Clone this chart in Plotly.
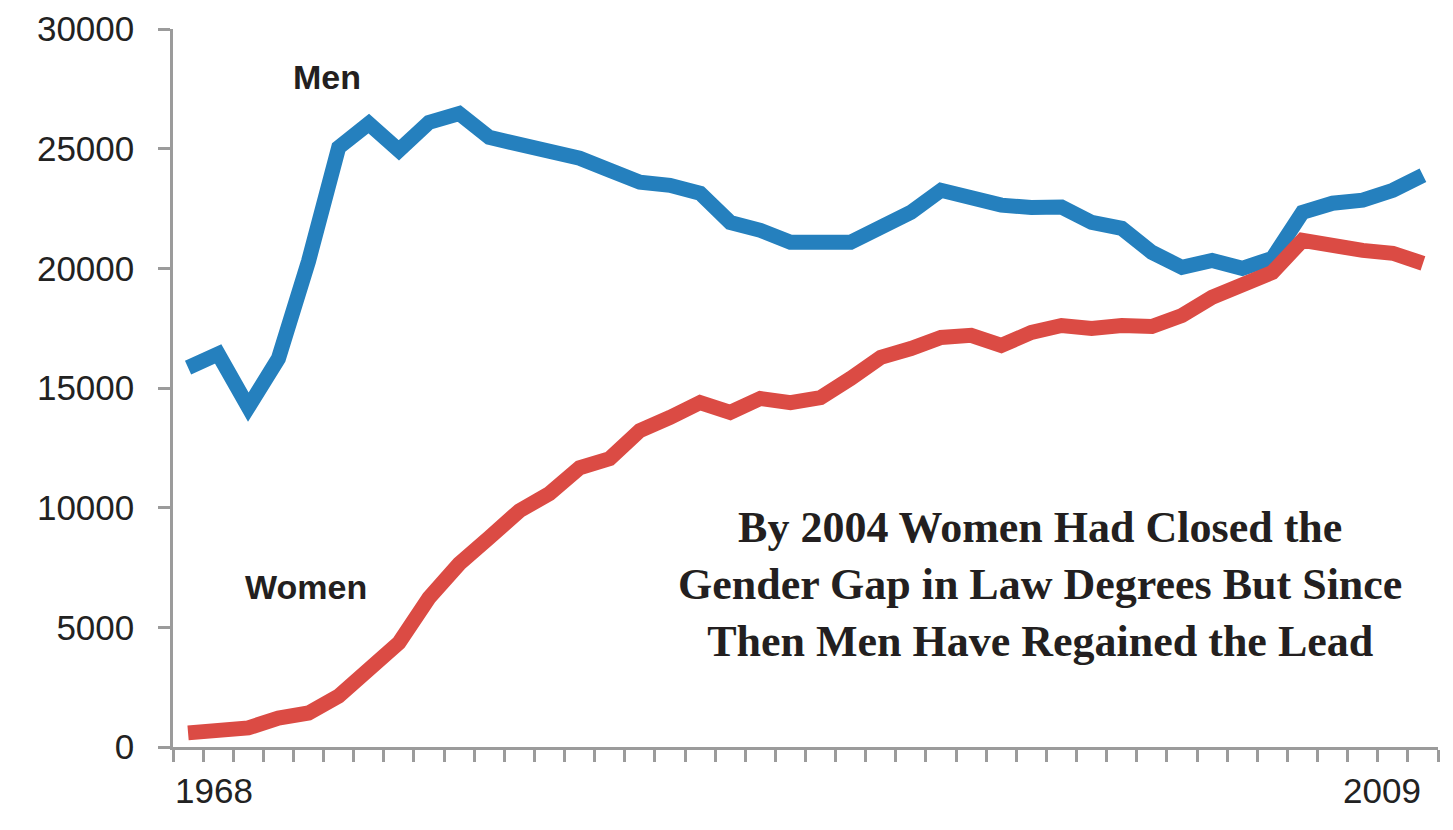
import plotly.graph_objects as go

years = list(range(1968, 2010))
men = [15850, 16420, 14200, 16230, 20300, 25050, 26050, 24930, 26100, 26470,
       25470, 25230, 24950, 24600, 24100, 23600, 23470, 23140, 21920, 21590,
       21090, 21090, 21090, 21720, 22340, 23260, 22930, 22640, 22540, 22560,
       21920, 21670, 20670, 20040, 20330, 20000, 20420, 22340, 22720, 22850,
       23260, 23890]
women = [590, 630, 800, 1210, 1420, 2130, 3300, 4350, 6230, 7650,
         8750, 9870, 10590, 11670, 12050, 13220, 13770, 14390, 13980, 14560,
         14390, 14600, 15400, 16280, 16650, 17110, 17200, 16780, 17320, 17610,
         17490, 17610, 17570, 18030, 18790, 19290, 19830, 21170, 20880, 20750,
         20630, 20210]
y_ticks = [0, 5000, 10000, 15000, 20000, 25000, 30000]
x_labels = ["1968", "2009"]
series_labels = ["Men", "Women"]
note = "By 2004 Women Had Closed the<br>Gender Gap in Law Degrees But Since<br>Then Men Have Regained the Lead"

BLUE = "#2580BE"
RED = "#DB4B44"
AXIS = "#9B9B9B"

fig = go.Figure()
fig.add_trace(go.Scatter(x=years, y=men, mode="lines", name="Men",
                         line=dict(color=BLUE, width=15), hoverinfo="x+y"))
fig.add_trace(go.Scatter(x=years, y=women, mode="lines", name="Women",
                         line=dict(color=RED, width=15), hoverinfo="x+y"))

fig.update_layout(
    width=1437, height=814,
    margin=dict(l=165, r=7, t=21, b=75, autoexpand=False),
    paper_bgcolor="white", plot_bgcolor="white",
    showlegend=False,
    font=dict(family="Liberation Sans, Arial, sans-serif", color="#222222"),
)
fig.update_xaxes(
    range=[years[0] - 0.5, years[-1] + 0.5],
    tickmode="array",
    tickvals=[y - 0.5 for y in years] + [years[-1] + 0.5],
    ticktext=["" for _ in years] + [""],
    ticks="outside", ticklen=12, tickwidth=2.5, tickcolor=AXIS,
    showline=True, linecolor=AXIS, linewidth=2.5,
    showgrid=False, zeroline=False, automargin=False,
)
fig.update_yaxes(
    range=[0, 30000],
    tickmode="array", tickvals=y_ticks, ticktext=[str(v) for v in y_ticks],
    ticks="outside", ticklen=12, tickwidth=2.5, tickcolor=AXIS,
    showline=True, linecolor=AXIS, linewidth=2.5,
    showgrid=False, zeroline=False, automargin=False,
    tickfont=dict(size=35, color="#222222", family="Liberation Sans, Arial, sans-serif"),
    ticklabelstandoff=17,
)

# x-axis year labels
fig.add_annotation(x=years[0] - 0.5, y=0, xref="x", yref="y", text=x_labels[0],
                   showarrow=False, xanchor="left", yanchor="top", yshift=-22,
                   font=dict(size=35, color="#222222"))
fig.add_annotation(x=years[-1], y=0, xref="x", yref="y", text=x_labels[1],
                   showarrow=False, xanchor="right", yanchor="top", yshift=-22,
                   font=dict(size=35, color="#222222"))

# series labels
fig.add_annotation(x=1972.6, y=28000, xref="x", yref="y", text="<b>%s</b>" % series_labels[0],
                   showarrow=False, font=dict(size=34, color="#231F20"))
fig.add_annotation(x=1971.9, y=6700, xref="x", yref="y", text="<b>%s</b>" % series_labels[1],
                   showarrow=False, font=dict(size=34, color="#231F20"))

# headline note
fig.add_annotation(x=1996.3, y=6800, xref="x", yref="y", text="<b>%s</b>" % note,
                   showarrow=False, align="center",
                   font=dict(size=44, color="#231F20",
                             family="Liberation Serif, Times New Roman, serif"))

fig.write_html("out.html")
